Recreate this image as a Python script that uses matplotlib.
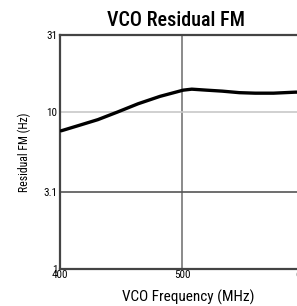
import matplotlib
matplotlib.use("Agg")
import matplotlib.pyplot as plt

# values
freq_mhz = [401, 415, 431, 447, 464, 482, 501, 508, 520, 533, 547, 560, 575, 593, 610]
resid_fm = [7.6, 8.2, 8.95, 10.0, 11.3, 12.6, 13.8, 14.0, 13.8, 13.6, 13.3, 13.2, 13.2, 13.4, 13.4]

yticks = [1, 3.1, 10, 31]
ytick_labels = ["1", "3.1", "10", "31"]
xticks = [400, 500, 600]

plt.rcParams["font.family"] = ["Roboto Condensed", "DejaVu Sans"]

fig = plt.figure(figsize=(2.97, 3.06), dpi=100)
ax = fig.add_axes([60 / 297, 1 - 269 / 306, 366 / 297, 234 / 306])

ax.set_yscale("log")
ax.set_xlim(400, 700)
ax.set_ylim(1, 31)

# grid lines
ax.axvline(500, color="#777777", lw=1.2, zorder=1)
ax.axhline(10, color="#c8c8c8", lw=1.2, zorder=1)
ax.axhline(3.1, color="#555555", lw=1.2, zorder=1)

ax.plot(freq_mhz, resid_fm, color="black", lw=2.4, solid_capstyle="round",
        solid_joinstyle="round", zorder=3)

ax.set_yticks(yticks)
ax.set_yticklabels(ytick_labels)
ax.yaxis.set_minor_locator(matplotlib.ticker.NullLocator())
ax.set_xticks(xticks)
ax.tick_params(length=0, labelsize=8, pad=2)
ax.tick_params(axis="x", pad=1)

for side in ["left", "bottom", "top"]:
    ax.spines[side].set_color("#444444")
    ax.spines[side].set_linewidth(1.6)
ax.spines["right"].set_visible(False)

ax.set_ylabel("Residual FM (Hz)", fontsize=8.5, labelpad=9)
fig.text(188 / 297, 1 - 297 / 306, "VCO Frequency (MHz)", ha="center", va="center",
         fontsize=11)
fig.text(176 / 297, 1 - 20 / 306, "VCO Residual FM", ha="center", va="center",
         fontsize=14.5, fontweight="medium")

fig.savefig("out.png", dpi=100)
